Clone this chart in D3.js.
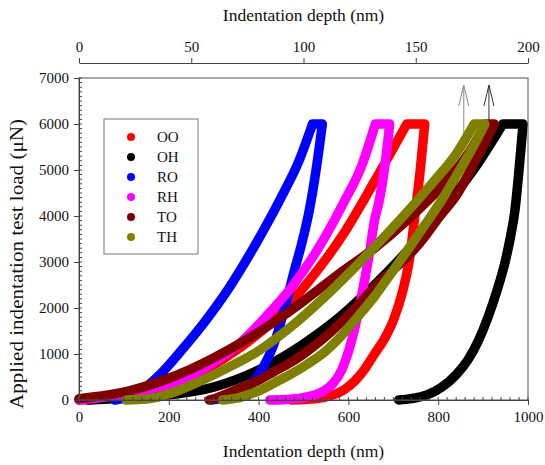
<!DOCTYPE html>
<html><head><meta charset="utf-8">
<script src="https://cdn.jsdelivr.net/npm/d3@7"></script>
<style>body{margin:0;background:#fff}svg{display:block}text{font-family:"Liberation Serif","Times New Roman",serif;fill:#111}</style>
</head><body><svg id="c" width="545" height="465"></svg>
<script>
// ---- data (depth nm, load µN) ----
const seriesNames = ["OO","OH","RO","RH","TO","TH"];
const seriesColors = ["#ff0000","#000000","#0000ff","#ff00ff","#800000","#808000"];
const OO = [[0,0],[100,70],[200,280],[280,650],[360,1150],[435,1750],[509,2550],[585,3550],[658,4750],[730,6000],[770,6000],[760,5000],[748,4000],[735,3000],[719,2300],[702,1780],[682,1360],[658,1000],[637,680],[615,420],[590,220],[560,90],[525,25],[473,0]];
const OH = [[20,0],[100,40],[200,110],[300,280],[400,650],[500,1220],[580,1800],[658,2500],[732,3250],[808,4130],[882,5050],[944,6000],[989,6000],[980,5000],[971,4130],[960,3500],[949,3000],[930,2350],[911,1800],[890,1300],[866,870],[840,550],[808,280],[775,110],[740,30],[712,0]];
const RO = [[80,0],[130,150],[180,550],[230,1100],[280,1700],[335,2450],[397,3450],[450,4400],[490,5200],[520,6000],[542,6000],[528,5000],[513,4130],[496,3400],[480,2826],[457,1957],[435,1239],[415,800],[397,500],[375,280],[353,150],[325,50],[295,0]];
const RH = [[0,0],[112,150],[223,420],[297,800],[360,1250],[420,1850],[473,2450],[530,3250],[590,4300],[630,5100],[660,6000],[692,6000],[680,5000],[668,4300],[658,3900],[647,3200],[636,2600],[625,2050],[614,1550],[600,1050],[585,650],[565,350],[540,170],[500,50],[460,10],[425,0]];
const TO = [[0,30],[112,200],[223,560],[335,1100],[420,1600],[500,2150],[580,2750],[658,3300],[732,3920],[808,4650],[870,5400],[905,6000],[925,6000],[880,5150],[844,4500],[800,3950],[770,3550],[730,3100],[696,2800],[658,2450],[620,2050],[585,1700],[540,1300],[500,1000],[460,750],[435,620],[400,430],[362,270],[330,140],[305,40],[290,0]];
const TH = [[105,0],[150,20],[190,100],[261,370],[335,720],[397,1050],[473,1600],[547,2240],[621,2950],[680,3550],[732,4100],[790,4750],[840,5350],[880,6000],[904,6000],[882,5580],[845,4950],[808,4350],[770,3800],[732,3260],[695,2750],[658,2250],[620,1800],[585,1400],[548,1050],[509,780],[470,550],[435,370],[400,200],[370,90],[345,30],[320,0]];
const seriesData = [OO,OH,RO,RH,TO,TH];
const arrowDepths = [857, 913];
const arrowColors = ["#8a8a8a","#333333"];
const xTicks = [0,200,400,600,800,1000];
const yTicks = [0,1000,2000,3000,4000,5000,6000,7000];
const topTicks = [0,50,100,150,200];

const svg = d3.select("#c");
const L=79, R=528, T=78, B=400;
const x = d3.scaleLinear().domain([0,1000]).range([L,R]);
const y = d3.scaleLinear().domain([0,7000]).range([B,T]);
const xTop = d3.scaleLinear().domain([0,200]).range([L,R]);
const FONT = "'Liberation Serif', 'Times New Roman', serif";

// arrows (under curves)
arrowDepths.forEach((d,i)=>{
  const g = svg.append("g").attr("stroke",arrowColors[i]).attr("fill","none").attr("stroke-width",1);
  g.append("line").attr("x1",x(d)).attr("x2",x(d)).attr("y1",y(5800)).attr("y2",85);
  g.append("polyline").attr("points",`${x(d)-5},106 ${x(d)},85 ${x(d)+5},106`);
});

// curves: loading, hold, unloading each drawn as monotone segment
const seg = d3.line().x(d=>x(d[0])).y(d=>y(d[1])).curve(d3.curveMonotoneX);
function seriesPath(s){
  const i0 = s.findIndex(p=>p[1]===6000);
  let i1 = i0; while(i1+1<s.length && s[i1+1][1]===6000) i1++;
  const load = s.slice(0,i0+1), unload = s.slice(i1);
  return seg(load) + `L${x(s[i1][0])},${y(s[i1][1])}` + seg(unload).replace(/^M/,"L");
}
seriesData.forEach((s,i)=>{
  svg.append("path").attr("d",seriesPath(s)).attr("fill","none").attr("stroke",seriesColors[i])
    .attr("stroke-width",9.5).attr("stroke-linecap","round").attr("stroke-linejoin","round");
});

// frame
svg.append("rect").attr("x",L).attr("y",T).attr("width",R-L).attr("height",B-T)
  .attr("fill","none").attr("stroke","#555").attr("stroke-width",1);

function styleAxis(g){
  g.attr("font-family",FONT).attr("font-size",15);
  g.selectAll("text").style("font-family",FONT).style("font-size","15px").attr("fill","#111");
  g.selectAll("line,path").attr("stroke","#444");
}
const fmt = d3.format("d");
// bottom axis
const gx = svg.append("g").attr("transform",`translate(0,${B})`)
  .call(d3.axisBottom(x).tickValues(xTicks).tickFormat(fmt).tickSizeInner(5).tickSizeOuter(0).tickPadding(6));
styleAxis(gx);
svg.append("g").selectAll("line").data(d3.range(0,1001,20)).join("line")
  .attr("x1",d=>x(d)).attr("x2",d=>x(d)).attr("y1",B).attr("y2",B-3).attr("stroke","#444");

// left axis
const gy = svg.append("g").attr("transform",`translate(${L},0)`)
  .call(d3.axisLeft(y).tickValues(yTicks).tickFormat(fmt).tickSizeInner(5).tickSizeOuter(0).tickPadding(5));
styleAxis(gy);
svg.append("g").selectAll("line").data(d3.range(0,7001,100)).join("line")
  .attr("x1",L).attr("x2",L+3).attr("y1",d=>y(d)).attr("y2",d=>y(d)).attr("stroke","#444");

// top axis
const gt = svg.append("g").attr("transform",`translate(0,63)`)
  .call(d3.axisTop(xTop).tickValues(topTicks).tickFormat(fmt).tickSizeInner(5).tickSizeOuter(0).tickPadding(6));
styleAxis(gt);

// titles
svg.append("text").attr("x",(L+R)/2).attr("y",21).attr("text-anchor","middle").attr("font-size",17.5).style("font-family",FONT).text("Indentation depth (nm)");
svg.append("text").attr("x",(L+R)/2).attr("y",457).attr("text-anchor","middle").attr("font-size",17.5).style("font-family",FONT).text("Indentation depth (nm)");
svg.append("text").attr("transform",`translate(23,264) rotate(-90)`).attr("text-anchor","middle").attr("font-size",18.5).style("font-family",FONT)
  .attr("textLength",290).attr("lengthAdjust","spacingAndGlyphs").text("Applied indentation test load (μN)");

// legend
svg.append("rect").attr("x",104).attr("y",119).attr("width",94).attr("height",135).attr("fill","#fff").attr("stroke","#777");
seriesNames.forEach((n,i)=>{
  svg.append("circle").attr("cx",131).attr("cy",137+20*i).attr("r",4).attr("fill",seriesColors[i]);
  svg.append("text").attr("x",157).attr("y",137+20*i+5).attr("font-size",15).style("font-family",FONT).text(n);
});
</script></body></html>
